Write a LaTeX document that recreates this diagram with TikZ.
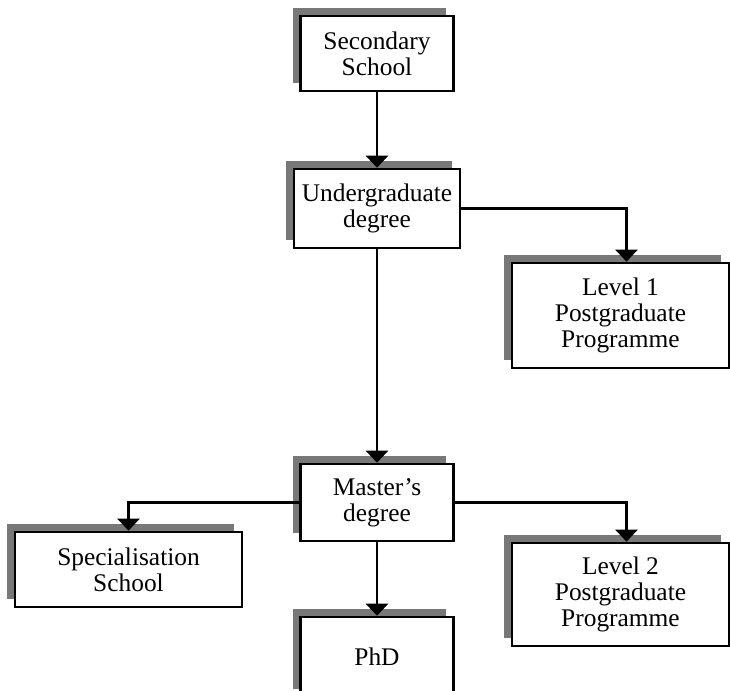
\documentclass[tikz,border=0pt]{standalone}
\usepackage{fontspec}
\setmainfont{Liberation Serif}
\usetikzlibrary{shadows,arrows.meta}
\definecolor{shadowgray}{RGB}{120,120,120}

\begin{document}
\begin{tikzpicture}[x=0.5pt, y=-0.5pt,
    box/.style={draw, line width=1.3pt, fill=white, align=center, inner sep=0pt,
      font=\fontsize{12.7}{13}\selectfont,
      drop shadow={shadow xshift=-4pt, shadow yshift=4pt, fill=shadowgray, opacity=1}},
    link/.style={line width=1.2pt, -{Triangle[width=11pt,length=6pt]}}]

    \useasboundingbox (0,0) rectangle (730,691);

    % boxes
    \node[box, minimum width=76.5pt, minimum height=37.5pt] (sec) at (377,53.5) {Secondary\\School};
    \node[box, minimum width=83pt, minimum height=39.5pt] (ugrad) at (377,208.5) {Undergraduate\\degree};
    \node[box, minimum width=108.5pt, minimum height=52.5pt] (lvlone) at (620.5,315.5) {Level 1\\Postgraduate\\Programme};
    \node[box, minimum width=76.5pt, minimum height=38.5pt] (master) at (377,502.5) {Master’s\\degree};
    \node[box, minimum width=113.5pt, minimum height=37.5pt] (spec) at (128.5,569.5) {Specialisation\\School};
    \node[box, minimum width=108.5pt, minimum height=51.5pt] (lvltwo) at (620.5,594.5) {Level 2\\Postgraduate\\Programme};
    \node[box, minimum width=76.5pt, minimum height=40pt] (phd) at (377,657) {PhD};

    % arrows
    \draw [link] (sec) -- (ugrad);
    \draw [link] (ugrad.east) -| ([xshift=3pt]lvlone.north);
    \draw [link] (ugrad) -- (master);
    \draw [link] (master.west) -| (spec.north);
    \draw [link] (master.east) -| ([xshift=3pt]lvltwo.north);
    \draw [link] (master) -- (phd);

\end{tikzpicture}
\end{document}
